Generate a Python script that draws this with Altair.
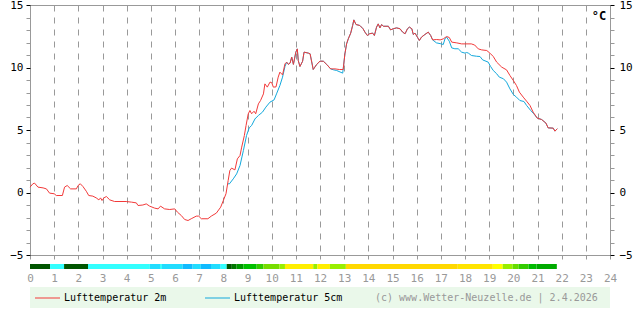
import altair as alt
import pandas as pd

# ---------------- data ----------------
red_hours = [0.0, 0.12, 0.19, 0.33, 0.54, 0.68, 0.81, 1.0, 1.09, 1.34, 1.43, 1.54, 1.68, 1.92, 1.99,
             2.08, 2.19, 2.33, 2.43, 2.6, 2.74, 2.85, 2.92, 2.98, 3.06, 3.16, 3.3, 3.5, 3.98, 4.2,
             4.4, 4.47, 4.67, 4.81, 4.95, 5.16, 5.3, 5.4, 5.57, 5.78, 5.99, 6.1, 6.26, 6.4, 6.54,
             6.67, 6.88, 6.98, 7.09, 7.36, 7.5, 7.71, 7.89, 8.0, 8.11, 8.2, 8.27, 8.34, 8.48, 8.58,
             8.69, 8.76, 8.87, 8.94, 9.03, 9.1, 9.17, 9.27, 9.34, 9.45, 9.54, 9.66, 9.72, 9.82, 9.93,
             10.0, 10.07, 10.18, 10.27, 10.34, 10.45, 10.55, 10.62, 10.69, 10.76, 10.83, 10.9, 11.0,
             11.06, 11.1, 11.17, 11.28, 11.34, 11.52, 11.59, 11.72, 11.86, 12.0, 12.14, 12.28, 12.44,
             12.62, 12.8, 12.96, 13.03, 13.1, 13.17, 13.27, 13.35, 13.4, 13.49, 13.65, 13.78, 13.86,
             13.96, 14.05, 14.18, 14.25, 14.34, 14.41, 14.48, 14.55, 14.62, 14.83, 14.92, 15.03,
             15.17, 15.31, 15.42, 15.52, 15.62, 15.7, 15.8, 15.86, 15.93, 16.03, 16.11, 16.2, 16.34,
             16.48, 16.58, 16.66, 16.83, 16.97, 17.1, 17.24, 17.35, 17.45, 17.66, 17.86, 18.26,
             18.4, 18.55, 18.69, 18.9, 19.03, 19.17, 19.31, 19.52, 19.72, 19.86, 20.0, 20.13, 20.25,
             20.41, 20.55, 20.69, 20.82, 20.99, 21.17, 21.35, 21.44, 21.65, 21.72, 21.82]
red_temps = [0.43, 0.7, 0.75, 0.43, 0.37, 0.29, -0.05, -0.1, -0.24, -0.24, 0.43, 0.56, 0.29, 0.29, 0.56,
             0.7, 0.48, 0.1, -0.24, -0.29, -0.43, -0.59, -0.43, -0.64, -0.43, -0.32, -0.59, -0.72, -0.72, -0.77,
             -0.83, -1.04, -1.0, -0.91, -1.09, -1.25, -1.31, -1.09, -1.31, -1.36, -1.31, -1.57, -1.84, -2.16, -2.24,
             -2.1, -1.89, -1.89, -2.1, -2.1, -1.89, -1.65, -1.17, -0.64, -0.1, 0.96, 1.76, 1.95, 1.81, 2.69,
             2.96, 3.63, 4.56, 5.36, 6.29, 6.56, 6.3, 6.5, 6.3, 7.09, 7.36, 7.89, 8.69, 8.43, 8.83,
             8.8, 8.43, 8.45, 9.23, 9.63, 9.41, 10.29, 10.43, 10.25, 10.35, 10.83, 10.25, 11.23,
             11.49, 10.56, 10.08, 10.5, 11.23, 11.15, 11.1, 9.84, 10.24, 10.51, 10.5, 10.24, 9.89,
             9.89, 9.84, 9.84, 11.09, 11.89, 12.29, 12.75, 13.36, 13.81, 13.44, 13.36, 13.1, 12.83,
             12.56, 12.7, 12.75, 12.56, 13.23, 13.49, 13.17, 13.44, 13.3, 13.3, 13.01, 13.1,
             13.17, 13.1, 12.83, 12.7, 13.1, 13.23, 13.1, 12.64, 12.75, 12.43, 12.16, 12.43, 12.64,
             12.83, 12.56, 12.21, 12.24, 12.21, 12.29, 12.48, 12.4, 12.03, 11.97, 11.89, 11.89,
             11.8, 11.49, 11.41, 11.36, 11.15, 10.88, 10.43, 10.03, 9.81, 9.36, 8.96, 8.56, 8.03,
             7.63, 7.3, 6.96, 6.43, 5.95, 5.84, 5.55, 5.17, 5.15, 4.91, 5.1]

blue_hours = [8.18, 8.25, 8.41, 8.55, 8.69, 8.83, 8.96, 9.07, 9.17, 9.31, 9.45, 9.62, 9.76, 9.93,
              10.1, 10.2, 10.34, 10.45, 10.55, 10.62, 10.69, 10.76, 10.83, 10.9, 11.0, 11.06, 11.1,
              11.17, 11.28, 11.34, 11.52, 11.59, 11.72, 11.86, 12.0, 12.14, 12.28, 12.44, 12.55,
              12.69, 12.94, 13.03, 13.1, 13.17, 13.27, 13.35, 13.4, 13.49, 13.65, 13.78, 13.86,
              13.96, 14.05, 14.18, 14.25, 14.34, 14.41, 14.48, 14.55, 14.62, 14.83, 14.92, 15.03,
              15.17, 15.31, 15.42, 15.52, 15.62, 15.7, 15.8, 15.86, 15.93, 16.03, 16.11, 16.2, 16.34,
              16.48, 16.58, 16.66, 16.82, 17.0, 17.1, 17.17, 17.24, 17.35, 17.45, 17.58, 17.72,
              17.86, 18.0, 18.07, 18.14, 18.27, 18.48, 18.62, 18.73, 18.96, 19.06, 19.17, 19.31,
              19.42, 19.59, 19.72, 19.86, 20.0, 20.13, 20.27, 20.44, 20.55, 20.72, 20.85, 20.99,
              21.17, 21.35, 21.44, 21.65, 21.72, 21.82]
blue_temps = [0.7, 0.69, 1.09, 1.49, 2.16, 3.36, 4.56, 5.17, 5.36, 5.89, 6.16, 6.43, 6.83, 7.23,
              7.41, 7.89, 8.56, 9.23, 10.08, 10.43, 10.25, 10.35, 10.83, 10.25, 11.23, 11.49, 10.56,
              10.08, 10.5, 11.23, 11.15, 11.1, 9.84, 10.24, 10.51, 10.5, 10.24, 9.89, 9.82,
              9.76, 9.55, 11.09, 11.89, 12.29, 12.75, 13.36, 13.81, 13.44, 13.36, 13.1, 12.83,
              12.56, 12.7, 12.75, 12.56, 13.23, 13.49, 13.17, 13.44, 13.3, 13.3, 13.01, 13.1,
              13.17, 13.1, 12.83, 12.7, 13.1, 13.23, 13.1, 12.64, 12.75, 12.43, 12.16, 12.43, 12.64,
              12.83, 12.56, 12.21, 11.97, 11.9, 11.84, 12.29, 12.43, 12.1, 11.57, 11.5, 11.5,
              11.23, 11.15, 11.2, 11.15, 10.96, 10.9, 10.88, 10.61, 10.43, 10.08, 9.76, 9.5,
              9.23, 9.1, 8.83, 8.29, 7.84, 7.63, 7.36, 7.28, 6.96, 6.56, 6.29, 5.95,
              5.84, 5.55, 5.17, 5.15, 4.91, 5.1]

bar_start = [0.0, 0.83, 1.41, 2.4, 4.96, 5.38, 5.46, 6.32, 6.73, 7.07, 7.49, 7.89, 8.14, 8.35, 8.55,
             8.83, 9.38, 9.66, 10.32, 10.55, 11.72, 11.89, 12.41, 13.07, 17.7, 19.15, 19.56, 19.97,
             20.22, 20.63, 20.96]
bar_end = bar_start[1:] + [21.8]
bar_colors = ["#005500", "#33FFFF", "#005500", "#33FFFF", "#22DDFF", "#33FFFF", "#22DDFF", "#11BBFF",
              "#22DDFF", "#11BBFF", "#22DDFF", "#33FFFF", "#005500", "#007700", "#009900",
              "#00C000", "#33CC00", "#77DD00", "#99EE00", "#FFEE00", "#99EE00", "#FFEE00", "#99EE00",
              "#FFD800", "#FFE400", "#FFFF00", "#99EE00", "#66DD00", "#33CC00", "#00BB00", "#00AA00"]

y_ticks = list(range(-5, 16))
x_ticks = list(range(0, 25))

legend_label_red = "Lufttemperatur 2m"
legend_label_blue = "Lufttemperatur 5cm"
copyright_text = "(c) www.Wetter-Neuzelle.de | 2.4.2026"
unit_text = "°C"

RED = "#F23A3A"
BLUE = "#12A8DC"
GRAY = "#999999"
FONT = "DejaVu Sans Mono"

red_df = pd.DataFrame({"h": red_hours, "t": red_temps})
blue_df = pd.DataFrame({"h": blue_hours, "t": blue_temps})
bar_df = pd.DataFrame({"h": bar_start, "e": bar_end, "c": bar_colors})
one = pd.DataFrame({"a": [0]})

xscale = alt.Scale(domain=[0, 24], nice=False, zero=False)
yscale = alt.Scale(domain=[-5, 15], nice=False, zero=False)

tick_color = {"condition": {"test": "datum.value % 5 === 0", "value": "#000000"}, "value": GRAY}
label_expr = "datum.value % 5 === 0 ? format(datum.value, 'd') : ''"

x_axis = alt.Axis(values=x_ticks, grid=True, gridColor=GRAY, gridDash=[6, 6], gridWidth=1,
                  domain=False, ticks=True, tickSize=4, tickColor=GRAY, labelColor=GRAY,
                  labelFont=FONT, labelFontSize=11, labelPadding=13, title=None, labelFlush=False)

left_axis = alt.Axis(orient="left", values=y_ticks, labelExpr=label_expr, tickColor=tick_color,
                     tickSize=4, domain=False, grid=False, labelFont=FONT, labelFontSize=11,
                     labelColor="#000000", labelPadding=3, title=None)
right_axis = alt.Axis(orient="right", values=y_ticks, labelExpr=label_expr, tickColor=tick_color,
                      tickSize=4, domain=False, grid=False, labelFont=FONT, labelFontSize=11,
                      labelColor="#000000", labelPadding=5, title=None)

X = alt.X("h:Q", scale=xscale, axis=x_axis)

blue_line = alt.Chart(blue_df).mark_line(color=BLUE, strokeWidth=1).encode(
    x=X,
    y=alt.Y("t:Q", scale=yscale, axis=right_axis),
)
red_line = alt.Chart(red_df).mark_line(color=RED, strokeWidth=1).encode(
    x=X,
    y=alt.Y("t:Q", scale=yscale, axis=left_axis),
)

bar = alt.Chart(bar_df).mark_rect().encode(
    x=X,
    x2="e:Q",
    y=alt.value(259),
    y2=alt.value(264),
    color=alt.Color("c:N", scale=None),
)

legend_bg = alt.Chart(one).mark_rect(color="#EAF8EA").encode(
    x=alt.value(0), x2=alt.value(580), y=alt.value(282), y2=alt.value(303))
leg_red = alt.Chart(one).mark_rule(color=RED, strokeWidth=1).encode(
    x=alt.value(5), x2=alt.value(30), y=alt.value(293))
leg_blue = alt.Chart(one).mark_rule(color=BLUE, strokeWidth=1).encode(
    x=alt.value(175), x2=alt.value(200), y=alt.value(293))
txt_red = alt.Chart(one).mark_text(align="left", baseline="middle", font=FONT, fontSize=10,
                                   color="#000000").encode(
    x=alt.value(34), y=alt.value(293), text=alt.value(legend_label_red))
txt_blue = alt.Chart(one).mark_text(align="left", baseline="middle", font=FONT, fontSize=10,
                                    color="#000000").encode(
    x=alt.value(204), y=alt.value(293), text=alt.value(legend_label_blue))
txt_copy = alt.Chart(one).mark_text(align="left", baseline="middle", font=FONT, fontSize=10,
                                    color=GRAY).encode(
    x=alt.value(345), y=alt.value(293), text=alt.value(copyright_text))
txt_unit = alt.Chart(one).mark_text(align="center", baseline="middle", font=FONT, fontSize=12,
                                    fontWeight="bold", color="#000000").encode(
    x=alt.value(569), y=alt.value(11), text=alt.value(unit_text))

chart = alt.layer(
    blue_line, red_line, bar, legend_bg, leg_red, leg_blue, txt_red, txt_blue, txt_copy, txt_unit
).resolve_scale(y="independent").properties(
    width=580, height=250,
    autosize="none",
    padding={"left": 30, "top": 5, "right": 30, "bottom": 60},
    background="#FFFFFF",
).configure_view(stroke=GRAY, strokeWidth=1)

chart.save("out.html", embed_options={"renderer": "svg", "actions": False})
